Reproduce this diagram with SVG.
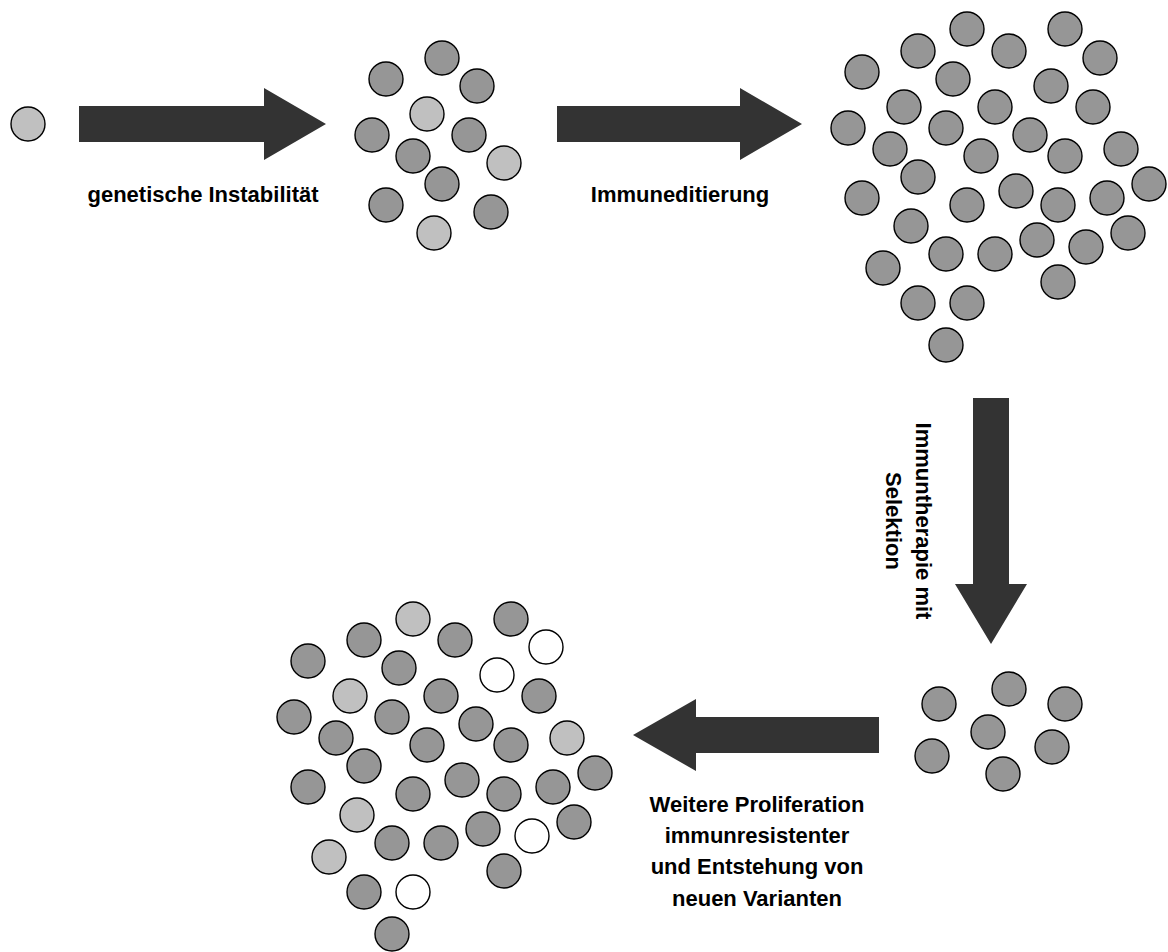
<svg xmlns="http://www.w3.org/2000/svg" width="1168" height="952" viewBox="0 0 1168 952">
<style>
circle{stroke:#000;stroke-width:1.4}
.d{fill:#969696}
.l{fill:#c0c0c0}
.w{fill:#ffffff}
.arrow{fill:#333333;stroke:none}
text{font-family:"Liberation Sans",Arial,sans-serif;font-weight:bold;font-size:22px;fill:#000;text-anchor:middle}
</style>
<rect width="1168" height="952" fill="#fff"/>
<g id="connectors">
<polygon class="arrow" points="79,106 264,106 264,88 326,124 264,160 264,142 79,142"/>
<polygon class="arrow" points="557,106 740,106 740,88 802,124 740,160 740,142 557,142"/>
<polygon class="arrow" points="973,398 1009,398 1009,584 1027,584 991,644 955,584 973,584"/>
<polygon class="arrow" points="879,717 696,717 696,699 633,735 696,771 696,753 879,753"/>
</g>
<g id="labels">
<text x="203" y="202">genetische Instabilität</text>
<text x="680" y="202">Immuneditierung</text>
<text transform="translate(916,521) rotate(90)"><tspan x="0" y="0">Immuntherapie mit</tspan><tspan x="0" y="30">Selektion</tspan></text>
<text x="757" y="812">Weitere Proliferation</text>
<text x="757" y="843">immunresistenter</text>
<text x="757" y="874">und Entstehung von</text>
<text x="757" y="906">neuen Varianten</text>
</g>
<g id="cell">
<circle class="l" cx="28" cy="124" r="17"/>
</g>
<g id="cluster-instability">
<circle class="d" cx="442" cy="58" r="17"/>
<circle class="d" cx="386" cy="79" r="17"/>
<circle class="d" cx="477" cy="86" r="17"/>
<circle class="l" cx="427" cy="114" r="17"/>
<circle class="d" cx="372" cy="135" r="17"/>
<circle class="d" cx="469" cy="135" r="17"/>
<circle class="d" cx="413" cy="156" r="17"/>
<circle class="l" cx="504" cy="163" r="17"/>
<circle class="d" cx="442" cy="184" r="17"/>
<circle class="d" cx="386" cy="205" r="17"/>
<circle class="d" cx="491" cy="212" r="17"/>
<circle class="l" cx="434" cy="233" r="17"/>
</g>
<g id="cluster-editing">
<circle class="d" cx="967" cy="29" r="17"/>
<circle class="d" cx="1065" cy="29" r="17"/>
<circle class="d" cx="918" cy="51" r="17"/>
<circle class="d" cx="1009" cy="51" r="17"/>
<circle class="d" cx="1100" cy="58" r="17"/>
<circle class="d" cx="862" cy="72" r="17"/>
<circle class="d" cx="953" cy="79" r="17"/>
<circle class="d" cx="1051" cy="86" r="17"/>
<circle class="d" cx="904" cy="107" r="17"/>
<circle class="d" cx="995" cy="107" r="17"/>
<circle class="d" cx="1093" cy="107" r="17"/>
<circle class="d" cx="848" cy="128" r="17"/>
<circle class="d" cx="946" cy="128" r="17"/>
<circle class="d" cx="1030" cy="135" r="17"/>
<circle class="d" cx="890" cy="149" r="17"/>
<circle class="d" cx="981" cy="156" r="17"/>
<circle class="d" cx="1065" cy="156" r="17"/>
<circle class="d" cx="1121" cy="149" r="17"/>
<circle class="d" cx="918" cy="177" r="17"/>
<circle class="d" cx="1149" cy="184" r="17"/>
<circle class="d" cx="862" cy="198" r="17"/>
<circle class="d" cx="1016" cy="191" r="17"/>
<circle class="d" cx="967" cy="205" r="17"/>
<circle class="d" cx="1058" cy="205" r="17"/>
<circle class="d" cx="1107" cy="198" r="17"/>
<circle class="d" cx="911" cy="226" r="17"/>
<circle class="d" cx="1128" cy="233" r="17"/>
<circle class="d" cx="1037" cy="240" r="17"/>
<circle class="d" cx="946" cy="254" r="17"/>
<circle class="d" cx="995" cy="254" r="17"/>
<circle class="d" cx="1086" cy="247" r="17"/>
<circle class="d" cx="883" cy="268" r="17"/>
<circle class="d" cx="1058" cy="282" r="17"/>
<circle class="d" cx="918" cy="303" r="17"/>
<circle class="d" cx="967" cy="303" r="17"/>
<circle class="d" cx="946" cy="345" r="17"/>
</g>
<g id="cluster-selected">
<circle class="d" cx="939" cy="704" r="17"/>
<circle class="d" cx="1009" cy="689" r="17"/>
<circle class="d" cx="1065" cy="704" r="17"/>
<circle class="d" cx="988" cy="732" r="17"/>
<circle class="d" cx="932" cy="756" r="17"/>
<circle class="d" cx="1052" cy="747" r="17"/>
<circle class="d" cx="1003" cy="774" r="17"/>
</g>
<g id="cluster-proliferation">
<circle class="l" cx="413" cy="619" r="17"/>
<circle class="d" cx="511" cy="619" r="17"/>
<circle class="d" cx="364" cy="640" r="17"/>
<circle class="d" cx="455" cy="640" r="17"/>
<circle class="w" cx="546" cy="647" r="17"/>
<circle class="d" cx="308" cy="661" r="17"/>
<circle class="d" cx="399" cy="668" r="17"/>
<circle class="w" cx="497" cy="675" r="17"/>
<circle class="l" cx="350" cy="696" r="17"/>
<circle class="d" cx="441" cy="696" r="17"/>
<circle class="d" cx="539" cy="696" r="17"/>
<circle class="d" cx="294" cy="717" r="17"/>
<circle class="d" cx="392" cy="717" r="17"/>
<circle class="d" cx="476" cy="724" r="17"/>
<circle class="d" cx="336" cy="738" r="17"/>
<circle class="d" cx="427" cy="745" r="17"/>
<circle class="d" cx="511" cy="745" r="17"/>
<circle class="l" cx="567" cy="738" r="17"/>
<circle class="d" cx="364" cy="766" r="17"/>
<circle class="d" cx="595" cy="773" r="17"/>
<circle class="d" cx="308" cy="787" r="17"/>
<circle class="d" cx="462" cy="780" r="17"/>
<circle class="d" cx="413" cy="794" r="17"/>
<circle class="d" cx="504" cy="794" r="17"/>
<circle class="d" cx="553" cy="787" r="17"/>
<circle class="l" cx="357" cy="815" r="17"/>
<circle class="d" cx="574" cy="822" r="17"/>
<circle class="d" cx="483" cy="829" r="17"/>
<circle class="d" cx="392" cy="843" r="17"/>
<circle class="d" cx="441" cy="843" r="17"/>
<circle class="w" cx="532" cy="836" r="17"/>
<circle class="l" cx="329" cy="857" r="17"/>
<circle class="d" cx="504" cy="871" r="17"/>
<circle class="d" cx="364" cy="892" r="17"/>
<circle class="w" cx="413" cy="892" r="17"/>
<circle class="d" cx="392" cy="934" r="17"/>
</g>
</svg>
